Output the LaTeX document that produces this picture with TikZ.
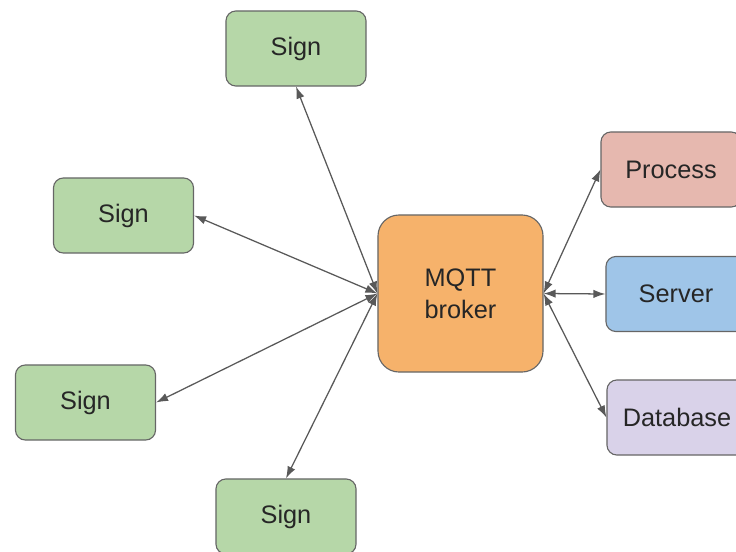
\documentclass[tikz,border=0pt]{standalone}
\usepackage{fontspec}
\setmainfont{Liberation Sans}
\usetikzlibrary{arrows.meta}
\definecolor{mgreen}{HTML}{B6D7A8}
\definecolor{morange}{HTML}{F6B26B}
\definecolor{mpink}{HTML}{E6B8AF}
\definecolor{mblue}{HTML}{9FC5E8}
\definecolor{mlav}{HTML}{D9D2E9}
\definecolor{medge}{HTML}{666666}
\definecolor{mline}{HTML}{595959}
\tikzset{
  mbox/.style={draw=medge,thick,rounded corners=7pt,minimum width=3.5cm,minimum height=1.875cm,
    font=\fontsize{18}{22.7}\selectfont,text=black!85},
  msign/.style={mbox,fill=mgreen},
  mbroker/.style={mbox,fill=morange,rounded corners=15pt,minimum width=4.125cm,minimum height=3.925cm,align=center},
  mlink/.style={mline,line width=0.9pt,>={Latex[length=3mm,width=2.1mm]},<->},
}
\begin{document}
\begin{tikzpicture}[x=0.025cm,y=-0.025cm]
\useasboundingbox (0,0) rectangle (736,552);
\clip (0,0) rectangle (736,552);
% ---- the broker in the middle
\node[mbroker] (broker) at (460.5,293.5) {MQTT\\broker};
% ---- signs on the left
\node[msign] (sign1) at (296,48.5) {Sign};
\node[msign] (sign2) at (123.5,215.5) {Sign};
\node[msign] (sign3) at (85.5,402.5) {Sign};
\node[msign] (sign4) at (286,516.5) {Sign};
% ---- back end on the right
\node[mbox,fill=mpink] (process) at (671,169.5) {Process};
\node[mbox,fill=mblue] (server) at (676,294) {Server};
\node[mbox,fill=mlav] (database) at (677,417.5) {Database};
% ---- links
\draw[mlink] (broker.west) -- (sign1.south);
\draw[mlink] (broker.west) -- (sign2.east);
\draw[mlink] (broker.west) -- (sign3.east);
\draw[mlink] (broker.west) -- (sign4.north);
\draw[mlink] (broker.east) -- (process.west);
\draw[mlink] (broker.east) -- (server.west);
\draw[mlink] (broker.east) -- (database.west);
\end{tikzpicture}
\end{document}
